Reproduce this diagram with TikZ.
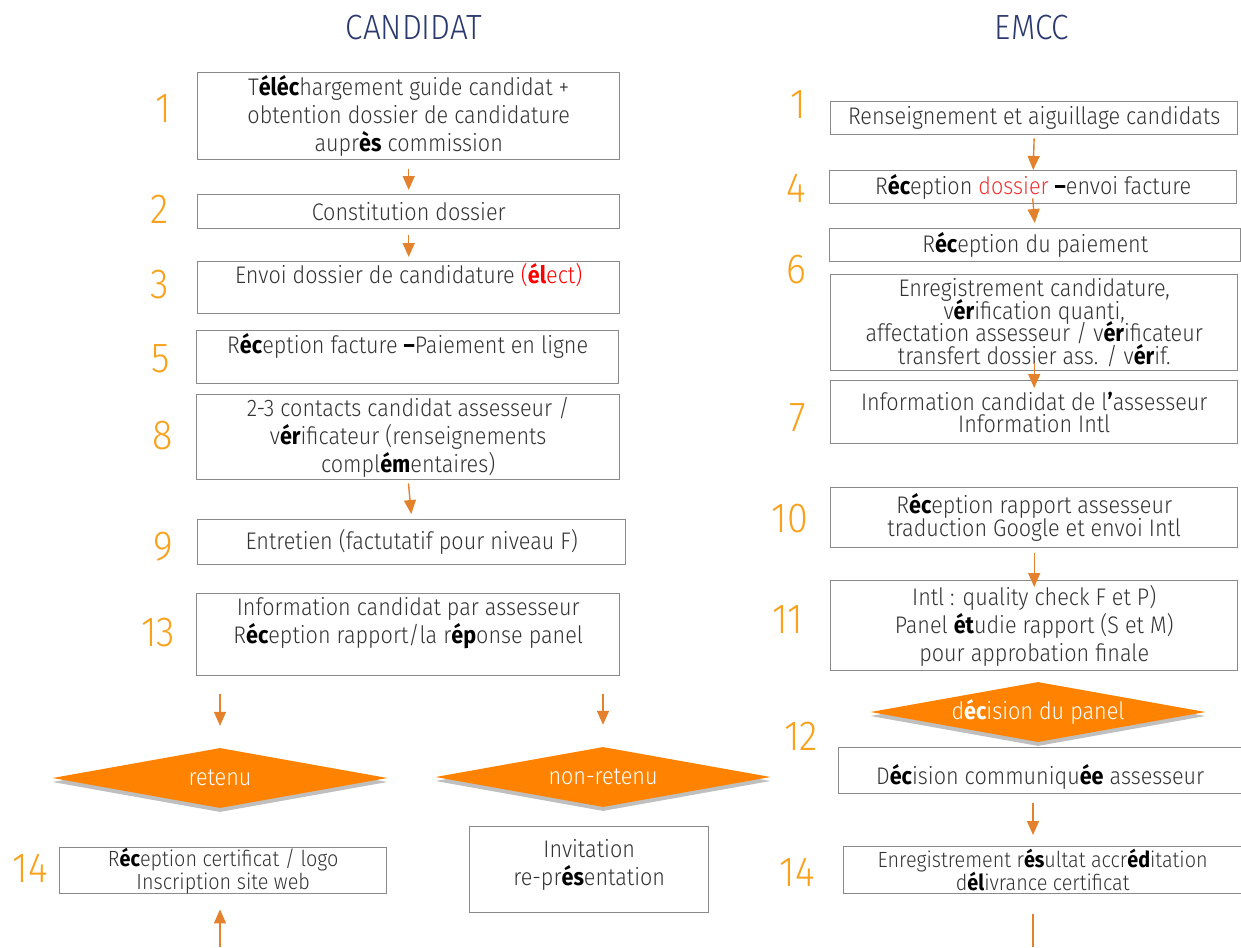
\documentclass[tikz,border=0pt]{standalone}
\usepackage{fontspec}
\setmainfont{Fira Sans}[UprightFont=* Light, BoldFont=* Bold, FakeStretch=0.9]
\usetikzlibrary{arrows.meta,shapes.geometric,shadows}
\definecolor{numorange}{HTML}{F9A11B}
\definecolor{arroworange}{HTML}{E4812C}
\definecolor{diaorange}{HTML}{FF8200}
\definecolor{navy}{HTML}{2B3A6E}
\definecolor{boxgray}{HTML}{8A8A8A}
\definecolor{rougevif}{HTML}{FF0000}
\definecolor{rougeclair}{HTML}{EE3333}
\newcommand{\gras}[1]{\textbf{\color{black}#1}}
\tikzset{
  etape/.style={draw=boxgray,line width=1.4pt,align=center,inner sep=0pt,anchor=north west,
    text=black!80,font=\fontsize{24}{28}\selectfont},
  serre/.style={font=\fontsize{22}{23}\selectfont},
  num/.style={text=numorange,font=\fontsize{42}{42}\selectfont,inner sep=0pt},
  titre/.style={text=navy,font=\fontsize{35}{35}\selectfont,inner sep=0pt},
  decision/.style={diamond,aspect=5.6,fill=diaorange,text=white,minimum width=335pt,minimum height=60pt,
    inner sep=0pt,font=\fontsize{24}{28}\selectfont,
    drop shadow={shadow xshift=0pt,shadow yshift=-4pt,fill=black!25,opacity=1}},
  fleche/.style={draw=arroworange,line width=1.4pt,-{Triangle[length=14pt,width=12pt]}}
}
\begin{document}
\begin{tikzpicture}[x=1pt,y=-1pt]
\useasboundingbox (0,0) rectangle (1241,947);
\node[titre] (tcand) at (414,28) {CANDIDAT};
\node[titre] (temcc) at (1032,28) {EMCC};

% CANDIDAT
\node[etape,minimum width=422pt,minimum height=87pt] (b1) at (197,72)
  {T\gras{éléc}hargement guide candidat +\\obtention dossier de candidature\\aupr\gras{ès} commission};
\node[etape,minimum width=422pt,minimum height=34pt] (b2) at (197,194) {Constitution dossier};
\node[etape,minimum width=422pt,minimum height=52pt] (b3) at (197,261)
  {Envoi dossier de candidature \textcolor{rougevif}{(\textbf{él}ect)}\\ };
\node[etape,minimum width=422pt,minimum height=53pt] (b5) at (196,330)
  {R\gras{éc}eption facture \gras{–}Paiement en ligne\\ };
\node[etape,minimum width=423pt,minimum height=85pt] (b8) at (196,394)
  {2-3 contacts candidat assesseur /\\v\gras{ér}ificateur (renseignements\\compl\gras{ém}entaires)};
\node[etape,minimum width=428pt,minimum height=45pt] (b9) at (197,519) {Entretien (factutatif pour niveau F)};
\node[etape,minimum width=423pt,minimum height=82pt] (b13) at (196,593)
  {Information candidat par assesseur\\R\gras{éc}eption rapport/la r\gras{ép}onse panel\\ };
\node[decision] (ret) at (220,778) {retenu};
\node[decision] (nret) at (603,777) {non-retenu};
\node[etape,serre,minimum width=327pt,minimum height=46pt] (b14g) at (59,847)
  {R\gras{éc}eption certificat / logo\\Inscription site web};
\node[etape,minimum width=239pt,minimum height=86pt] (binv) at (469,826)
  {Invitation\\re-pr\gras{és}entation\\[-14pt] };
\coordinate (basg) at (220,947);

\node[num] (n1) at (163,109) {1};
\node[num] (n2) at (160,209) {2};
\node[num] (n3) at (160,285) {3};
\node[num] (n5) at (161,359) {5};
\node[num] (n8) at (163,436) {8};
\node[num] (n9) at (163,547) {9};
\node[num] (n13) at (158,633) {13};
\node[num] (n14) at (30,868) {14};

\draw[fleche,shorten <=9pt,shorten >=4pt] (b1.south) -- (b2.north);
\draw[fleche,shorten <=6pt,shorten >=4pt] (b2.south) -- (b3.north);
\draw[fleche,shorten <=3pt,shorten >=5pt] (b8.south) -- (b9.north);
\draw[fleche,shorten <=18pt,shorten >=22pt] (b13.south -| ret.north) -- (ret.north);
\draw[fleche,shorten <=18pt,shorten >=22pt] (b13.south -| nret.north) -- (nret.north);
\draw[fleche,shorten >=15pt] (basg) -- (b14g.south -| basg);

% EMCC
\node[etape,minimum width=407pt,minimum height=33pt] (r1) at (830,101)
  {Renseignement et aiguillage candidats};
\node[etape,minimum width=407pt,minimum height=33pt] (r4) at (829,170)
  {R\gras{éc}eption \textcolor{rougeclair}{dossier} \gras{–}envoi facture};
\node[etape,minimum width=411pt,minimum height=33pt] (r6a) at (829,228)
  {R\gras{éc}eption du paiement};
\node[etape,minimum width=407pt,minimum height=96pt] (r6b) at (830,274)
  {Enregistrement candidature,\\[-5.5pt]v\gras{ér}ification quanti,\\[-5.5pt]affectation assesseur / v\gras{ér}ificateur\\[-5.5pt]transfert dossier ass. / v\gras{ér}if.};
\node[etape,minimum width=407pt,minimum height=63pt] (r7) at (830,380)
  {Information candidat de l\gras{’}assesseur\\[-6pt]Information Intl};
\node[etape,minimum width=407pt,minimum height=60pt] (r10) at (830,487)
  {R\gras{éc}eption rapport assesseur\\[-5pt]traduction Google et envoi Intl};
\node[etape,minimum width=407pt,minimum height=90pt] (r11) at (830,580)
  {Intl : quality check F et P)\\Panel \gras{ét}udie rapport (S et M)\\pour approbation finale};
\node[decision] (dec) at (1038,712) {d\textbf{éc}ision du panel};
\node[etape,minimum width=403pt,minimum height=46pt] (r12) at (838,747)
  {\\[5pt]D\gras{éc}ision communiqu\gras{ée} assesseur};
\node[etape,serre,minimum width=398pt,minimum height=47pt] (r14) at (843,846)
  {Enregistrement r\gras{és}ultat accr\gras{éd}itation\\d\gras{él}ivrance certificat};
\coordinate (basd) at (1033,947);

\node[num] (m1) at (798,105) {1};
\node[num] (m4) at (796,188) {4};
\node[num] (m6) at (796,270) {6};
\node[num] (m7) at (798,418) {7};
\node[num] (m10) at (790,519) {10};
\node[num] (m11) at (788,620) {11};
\node[num] (m12) at (801,736) {12};
\node[num] (m14) at (797,872) {14};

\draw[fleche,shorten <=3pt] (r1.south) -- (r4.north);
\draw[fleche,shorten <=-6pt,shorten >=5pt] (r4.south) -- (r6a.north);
\draw[fleche,shorten <=-8pt,shorten >=-8pt] (r6b.south) -- (r7.north);
\draw[fleche,shorten <=5pt,shorten >=-7pt] (r10.south) -- (r11.north);
\draw[fleche,shorten <=9pt,shorten >=11pt] (r12.south -| basd) -- (r14.north -| basd);
\draw[draw=arroworange,line width=1.4pt,shorten <=20pt] (r14.south -| basd) -- (basd);
\end{tikzpicture}
\end{document}
